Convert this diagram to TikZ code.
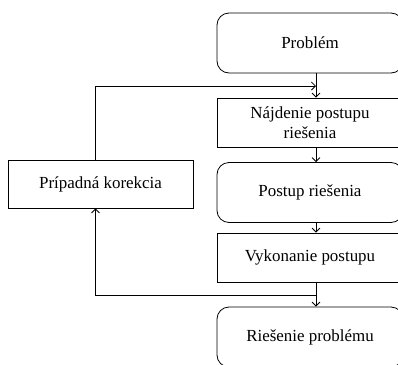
\documentclass[tikz,border=0pt]{standalone}
\usepackage{fontspec}
\setmainfont{Liberation Serif}
\usetikzlibrary{arrows.meta}
\tikzset{
  rbox/.style={draw, rounded corners=12bp, minimum width=186bp,
    minimum height=60bp, align=center, font=\fontsize{17}{20}\selectfont},
  sbox/.style={draw, minimum width=186bp, minimum height=49bp,
    align=center, font=\fontsize{17}{20}\selectfont},
  flow/.style={-{Straight Barb[length=4bp,width=8bp]}}
}
\begin{document}
\begin{tikzpicture}[x=1bp,y=-1bp,line width=0.8bp]
  \useasboundingbox (0,0) rectangle (398,365);
  % main column
  \node[rbox] (problem) at (310,43) {Problém};
  \node[sbox] (najdenie) at (310,122.5) {Nájdenie postupu\\riešenia};
  \node[rbox] (postup) at (310,192.5) {Postup riešenia};
  \node[sbox] (vykonanie) at (310,257.5) {Vykonanie postupu};
  \node[rbox] (riesenie) at (310,337) {Riešenie problému};
  % feedback box
  \node[sbox, minimum width=185bp, minimum height=48bp] (korekcia)
    at (100.5,184) {Prípadná korekcia};
  \coordinate (merge) at (316,86);
  \coordinate (split) at (316,295);
  \draw[flow] ([xshift=6bp]problem.south) -- ([xshift=6bp]najdenie.north);
  \draw[flow] ([xshift=6bp]najdenie.south) -- ([xshift=6bp]postup.north);
  \draw[flow] ([xshift=6bp]postup.south) -- ([xshift=6bp]vykonanie.north);
  \draw[flow] ([xshift=6bp]vykonanie.south) -- ([xshift=6bp]riesenie.north);
  \draw[flow] (split) -| ([xshift=-5bp]korekcia.south);
  \draw[flow] ([xshift=-5bp]korekcia.north) |- (merge);
\end{tikzpicture}
\end{document}
